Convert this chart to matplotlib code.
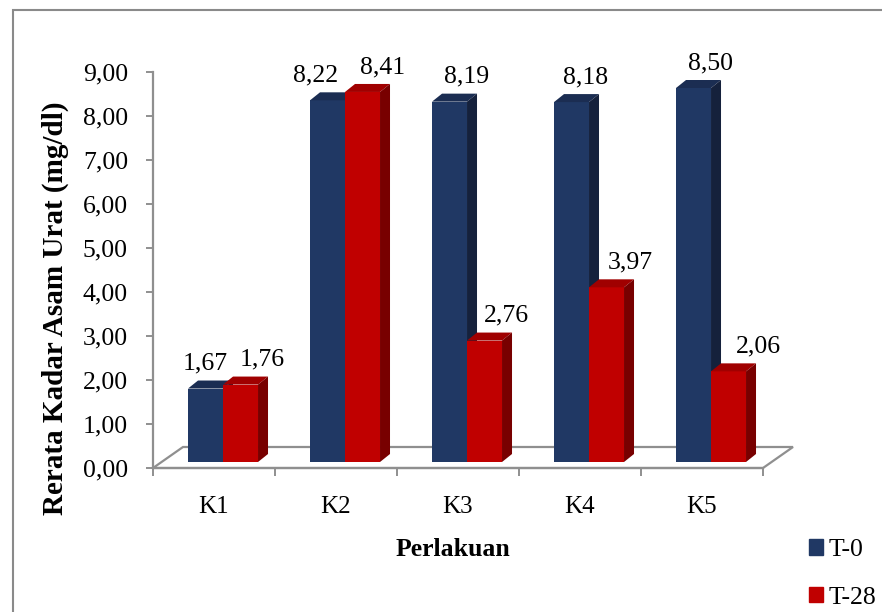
import matplotlib
matplotlib.use("Agg")
import matplotlib.pyplot as plt
from matplotlib.patches import Polygon, Rectangle, Patch
from matplotlib.ticker import FuncFormatter

# data
kelompok = ["K1", "K2", "K3", "K4", "K5"]
t0 = [1.67, 8.22, 8.19, 8.18, 8.50]
t28 = [1.76, 8.41, 2.76, 3.97, 2.06]
seri = ["T-0", "T-28"]

plt.rcParams["font.family"] = ["Liberation Serif", "DejaVu Serif"]

# colours: front, top, side
biru = ("#203864", "#1b2d52", "#15213c")
merah = ("#c00000", "#a00000", "#780000")
abu = "#8f8f8f"

fig = plt.figure(figsize=(8.82, 6.12), dpi=100)
W, H = 882, 612
ax = fig.add_axes([153 / W, 1 - 468 / H, 610 / W, 396 / H])
ax.set_xlim(0.5, 5.5)
ax.set_ylim(0, 9)

# pixel -> data conversion for the pseudo 3D offsets
px_x = 5 / 610
px_y = 9 / 396
dep_x, dep_y = 10 * px_x, 8 * px_y      # bar depth
lan_x, lan_y = 30 * px_x, 21 * px_y     # floor depth
dasar = 6 * px_y                        # bars sit a little back on the floor
lebar = 35 * px_x

# floor
lantai = Polygon([(0.5, 0), (0.5 + lan_x, lan_y), (5.5 + lan_x, lan_y), (5.5, 0)],
                 closed=True, facecolor="white", edgecolor=abu, lw=1.6,
                 clip_on=False, zorder=1)
ax.add_patch(lantai)


def batang(x0, vals, warna, z):
    ax.bar(x0, vals, width=lebar, bottom=dasar, align="edge",
           color=warna[0], edgecolor="none", zorder=z)
    for x, v in zip(x0, vals):
        atas = dasar + v
        ax.add_patch(Polygon([(x, atas), (x + lebar, atas),
                              (x + lebar + dep_x, atas + dep_y), (x + dep_x, atas + dep_y)],
                             closed=True, facecolor=warna[1], edgecolor="none", zorder=z))
        ax.add_patch(Polygon([(x + lebar, dasar), (x + lebar + dep_x, dasar + dep_y),
                              (x + lebar + dep_x, atas + dep_y), (x + lebar, atas)],
                             closed=True, facecolor=warna[2], edgecolor="none", zorder=z))


pos = list(range(1, len(kelompok) + 1))
x_biru = [p - 0.213 for p in pos]
x_merah = [p - 0.213 + lebar for p in pos]
batang(x_biru, t0, biru, 3)
batang(x_merah, t28, merah, 4)

# value labels
geser_biru = [0, -12, 17, 14, 17]
geser_merah = [22, 20, 22, 24, 30]
fmt = lambda v: f"{v:.2f}".replace(".", ",")
for xs, vals, geser in ((x_biru, t0, geser_biru), (x_merah, t28, geser_merah)):
    for x, v, g in zip(xs, vals, geser):
        ax.annotate(fmt(v), (x + lebar / 2, dasar + v), xytext=(g * 0.72, 19 * 0.72),
                    textcoords="offset points", ha="center", va="baseline",
                    fontsize=18.5, zorder=6)

# axes styling
for s in ("top", "right"):
    ax.spines[s].set_visible(False)
ax.spines["left"].set_color(abu)
ax.spines["left"].set_linewidth(1.6)
ax.spines["bottom"].set_color(abu)
ax.spines["bottom"].set_linewidth(1.6)
ax.spines["bottom"].set_zorder(2)

ax.set_yticks(range(0, 10))
ax.yaxis.set_major_formatter(FuncFormatter(lambda v, _: fmt(v)))
ax.tick_params(axis="y", length=5, width=1.4, color=abu, pad=13, labelsize=18.5)

ax.set_xticks(pos)
ax.set_xticklabels(kelompok)
ax.set_xticks([p + 0.5 for p in range(0, 6)], minor=True)
ax.tick_params(axis="x", which="major", length=0, pad=20, labelsize=18)
ax.tick_params(axis="x", which="minor", length=6, width=1.4, color=abu)

ax.set_xlabel("Perlakuan", fontsize=18.5, fontweight="bold")
ax.xaxis.set_label_coords((453 - 153) / 610, -70 / 396)
ylab = ax.set_ylabel("Rerata Kadar Asam Urat (mg/dl)", fontsize=21, fontweight="bold",
                     va="center")
ax.yaxis.set_label_coords((55 - 153) / 610, (468 - 308) / 396)

# legend
ax.legend([Patch(color=biru[0]), Patch(color=merah[0])], seri,
          loc="upper left", bbox_to_anchor=(809 / W, 1 - 539 / H),
          bbox_transform=fig.transFigure, frameon=False, fontsize=18.5,
          handlelength=0.55, handleheight=0.55, handletextpad=0.2,
          labelspacing=1.0, borderpad=0, borderaxespad=0)

# outer chart border
fig.add_artist(Rectangle((13 / W, -0.05), 1.0, 1 - 10 / H + 0.05,
                         transform=fig.transFigure, fill=False,
                         edgecolor="#8a8a8a", lw=1.5))

fig.savefig("out.png", dpi=100)
